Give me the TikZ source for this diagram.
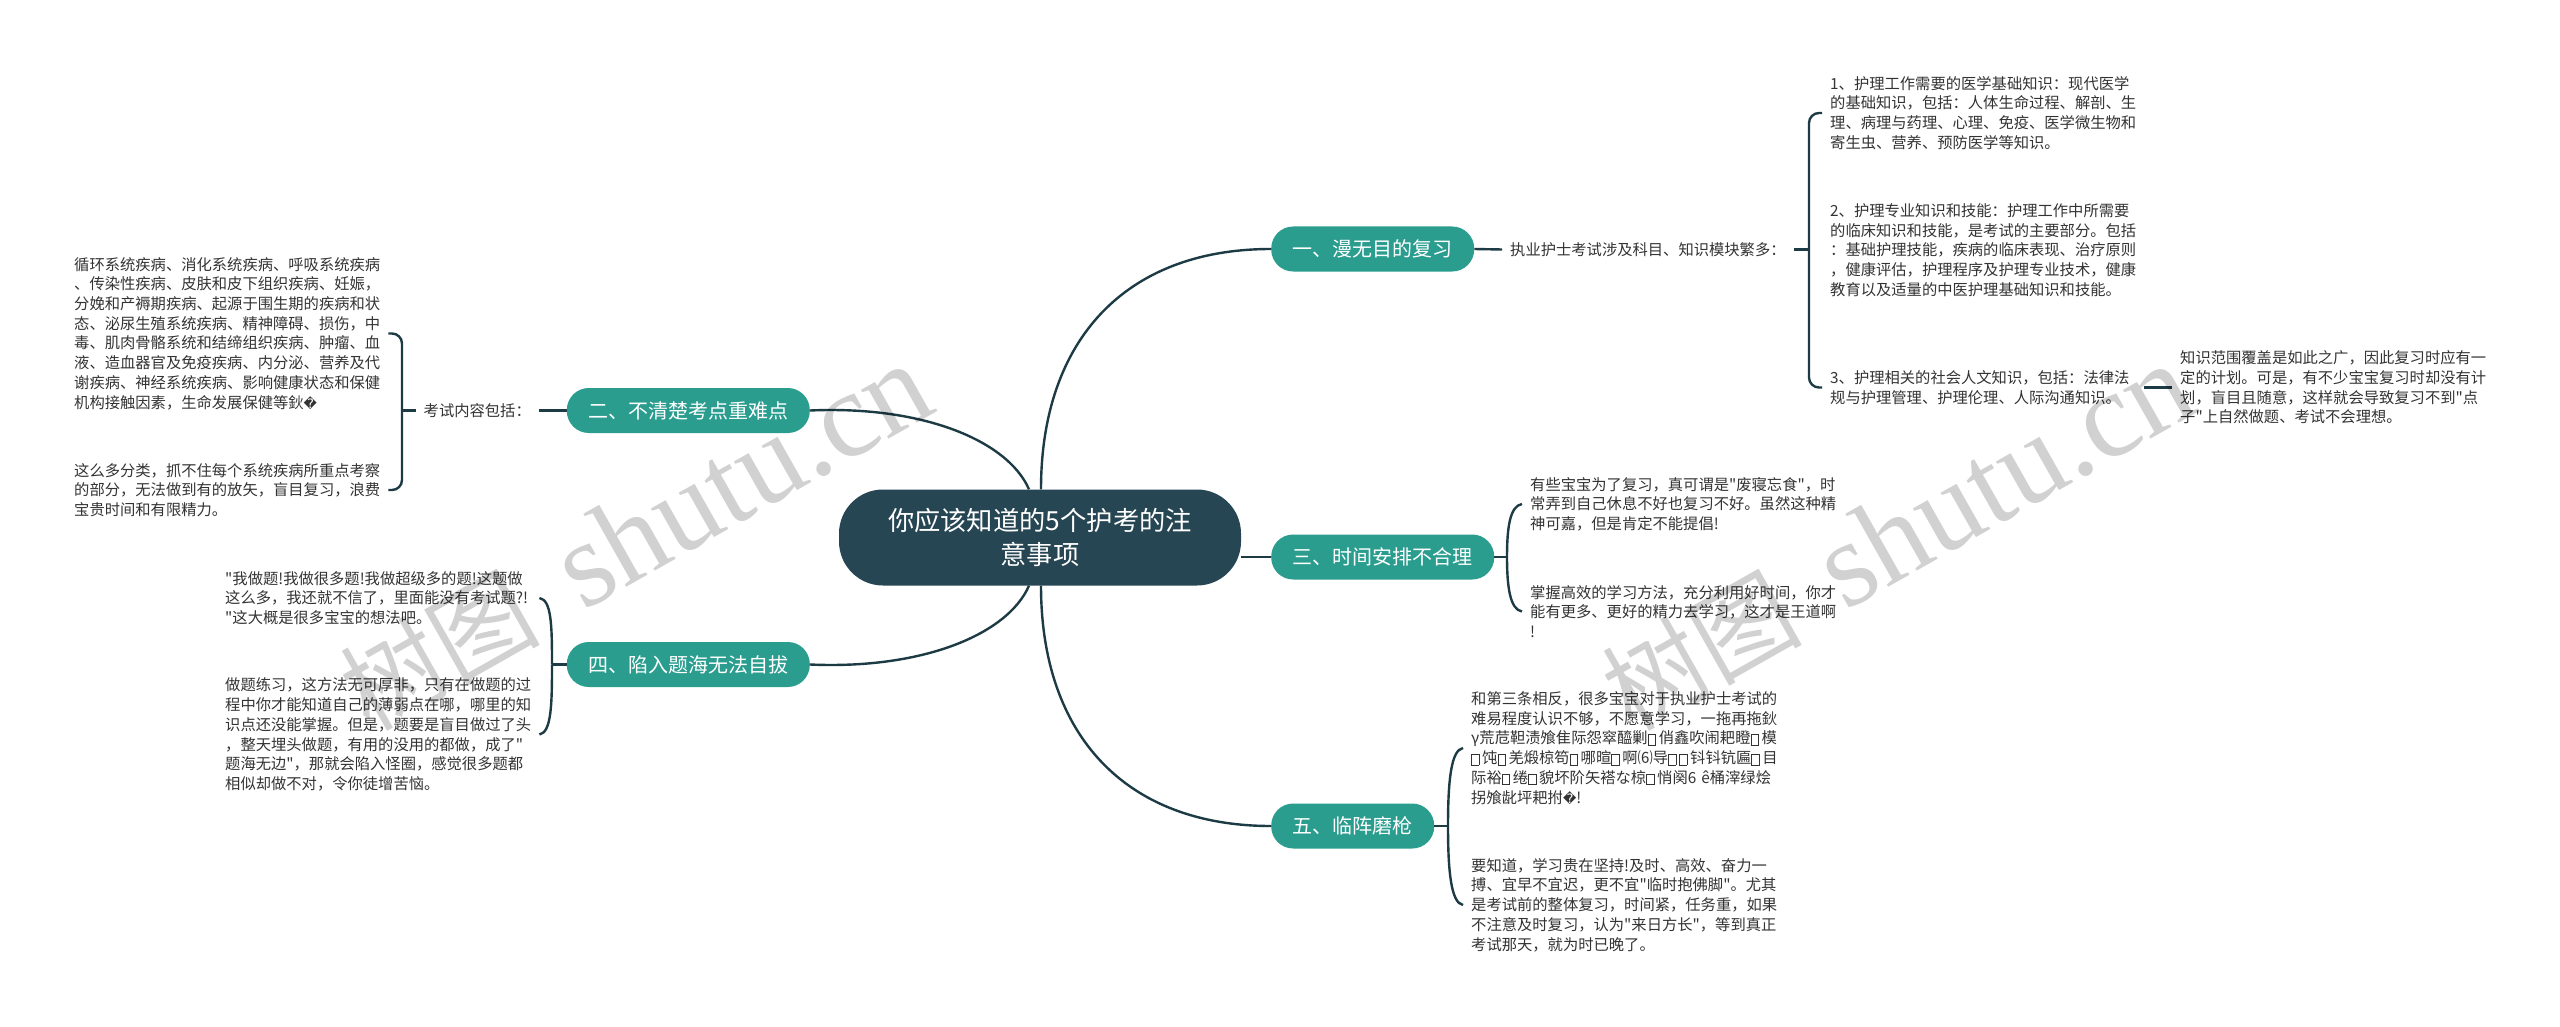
\documentclass[tikz,border=0pt]{standalone}
\usepackage{fontspec}
\setmainfont{Noto Sans CJK SC}[Ligatures=TeXOff]
\newfontfamily\symfont{DejaVu Sans}
\newfontfamily\markfont{Liberation Serif}
\definecolor{rootcol}{HTML}{264653}
\definecolor{topiccol}{HTML}{2A9D8F}
\definecolor{linecol}{HTML}{1D3B45}
\definecolor{textcol}{HTML}{333333}
\newcommand{\holebox}{\makebox[11pt][l]{\raisebox{-1pt}{\fboxsep=0pt\fboxrule=.6pt\fbox{\rule{0pt}{10pt}\rule{7pt}{0pt}}}}}
\newcommand{\badchar}{{\symfont\fontsize{13}{19.7}\selectfont ^^^^fffd}}
\newcommand{\marklabel}{{\fontsize{100}{130}\selectfont 树图}\hspace{45pt}{\markfont shutu.cn}}
\tikzset{
    rootnode/.style={fill=rootcol, text=white, rounded corners=44pt, minimum width=402pt, minimum height=96pt, inner sep=0pt, align=center, font=\fontsize{26.3}{34.5}\selectfont},
    topicnode/.style={fill=topiccol, text=white, rounded corners=22pt, minimum height=45pt, inner xsep=21.5pt, inner ysep=0pt, font=\fontsize{20}{24}\selectfont},
    leafnode/.style={text=textcol, inner xsep=8pt, inner ysep=0pt, font=\fontsize{15.3}{19.7}\selectfont},
    textnode/.style={leafnode, text width=306pt, align=left},
    branchline/.style={draw=linecol, line width=2.4pt},
    bracketline/.style={draw=linecol, line width=2.4pt, rounded corners=10pt},
    marktext/.style={text=black, text opacity=.18, rotate=29.5, font=\fontsize{122}{130}\selectfont}
}
\begin{document}
\begin{tikzpicture}[x=1pt, y=-1pt]
    \path[fill=white, use as bounding box] (0,0) rectangle (2560,1027);

    \node[rootnode] (root) at (1040,537.5) {你应该知道的5个护考的注\\意事项};

    \node[topicnode, anchor=west] (n1) at (1271,249) {一、漫无目的复习};
    \node[topicnode, anchor=east] (n2) at (810,410.5) {二、不清楚考点重难点};
    \node[topicnode, anchor=west] (n3) at (1271,557) {三、时间安排不合理};
    \node[topicnode, anchor=east] (n4) at (810,664.5) {四、陷入题海无法自拔};
    \node[topicnode, anchor=west] (n5) at (1271,826) {五、临阵磨枪};

    \node[leafnode, anchor=west] (k1) at (1502,249.5) {执业护士考试涉及科目、知识模块繁多：};
    \node[leafnode, anchor=east] (k2) at (539,410.5) {考试内容包括：};

    \node[textnode, anchor=west] (t1a) at (1822,113) {1、护理工作需要的医学基础知识：现代医学\\的基础知识，包括：人体生命过程、解剖、生\\理、病理与药理、心理、免疫、医学微生物和\\寄生虫、营养、预防医学等知识。};
    \node[textnode, anchor=west] (t1b) at (1822,250) {2、护理专业知识和技能：护理工作中所需要\\的临床知识和技能，是考试的主要部分。包括\\：基础护理技能，疾病的临床表现、治疗原则\\，健康评估，护理程序及护理专业技术，健康\\教育以及适量的中医护理基础知识和技能。};
    \node[textnode, anchor=west] (t1c) at (1822,387.5) {3、护理相关的社会人文知识，包括：法律法\\规与护理管理、护理伦理、人际沟通知识。};
    \node[textnode, anchor=west] (t1d) at (2172,387.5) {知识范围覆盖是如此之广，因此复习时应有一\\定的计划。可是，有不少宝宝复习时却没有计\\划，盲目且随意，这样就会导致复习不到"点\\子"上自然做题、考试不会理想。};

    \node[textnode, anchor=west] (t2a) at (66,333.5) {循环系统疾病、消化系统疾病、呼吸系统疾病\\、传染性疾病、皮肤和皮下组织疾病、妊娠，\\分娩和产褥期疾病、起源于围生期的疾病和状\\态、泌尿生殖系统疾病、精神障碍、损伤，中\\毒、肌肉骨骼系统和结缔组织疾病、肿瘤、血\\液、造血器官及免疫疾病、内分泌、营养及代\\谢疾病、神经系统疾病、影响健康状态和保健\\机构接触因素，生命发展保健等鈥\badchar};
    \node[textnode, anchor=west] (t2b) at (66,490) {这么多分类，抓不住每个系统疾病所重点考察\\的部分，无法做到有的放矢，盲目复习，浪费\\宝贵时间和有限精力。};

    \node[textnode, anchor=west] (t3a) at (1522,504) {有些宝宝为了复习，真可谓是"废寝忘食"，时\\常弄到自己休息不好也复习不好。虽然这种精\\神可嘉，但是肯定不能提倡!};
    \node[textnode, anchor=west] (t3b) at (1522,611.5) {掌握高效的学习方法，充分利用好时间，你才\\能有更多、更好的精力去学习，这才是王道啊\\!};

    \node[textnode, anchor=west] (t4a) at (217,598) {"我做题!我做很多题!我做超级多的题!这题做\\这么多，我还就不信了，里面能没有考试题?!\\"这大概是很多宝宝的想法吧。};
    \node[textnode, anchor=west] (t4b) at (217,734.5) {做题练习，这方法无可厚非，只有在做题的过\\程中你才能知道自己的薄弱点在哪，哪里的知\\识点还没能掌握。但是，题要是盲目做过了头\\，整天埋头做题，有用的没用的都做，成了"\\题海无边"，那就会陷入怪圈，感觉很多题都\\相似却做不对，令你徒增苦恼。};

    \node[textnode, anchor=west] (t5a) at (1463,748) {和第三条相反，很多宝宝对于执业护士考试的\\难易程度认识不够，不愿意学习，一拖再拖鈥\\γ荒苊靼渍飧隹际怨窣醯剿\holebox 俏鑫吹闹耙瞪\holebox 模\\\holebox 饨\holebox 羌煅椋笱\holebox 哪暄\holebox 啊⑹导\holebox\holebox 钭钭钪匾\holebox 目\\际裕\holebox 绻\holebox 貌坏阶矢褡な椋\holebox 悄阕6~ê桶滓绿烩\\拐飧龀坪耙拊\badchar!};
    \node[textnode, anchor=west] (t5b) at (1463,905) {要知道，学习贵在坚持!及时、高效、奋力一\\搏、宜早不宜迟，更不宜"临时抱佛脚"。尤其\\是考试前的整体复习，时间紧，任务重，如果\\不注意及时复习，认为"来日方长"，等到真正\\考试那天，就为时已晚了。};

    \coordinate (b1) at (1809,249.5);
    \coordinate (b2) at (402,410.5);
    \coordinate (b3) at (1507,557);
    \coordinate (b4) at (552,664.5);
    \coordinate (b5) at (1448,826);

    \draw[branchline] ([xshift=1pt]root.north) .. controls +(0,-150) and +(-145,0) .. (n1.west);
    \draw[branchline] ([xshift=-11pt]root.north) .. controls +(-22,-50) and +(110,-5) .. (n2.east);
    \draw[branchline] (root.east |- n3) -- (n3.west);
    \draw[branchline] ([xshift=-11pt]root.south) .. controls +(-22,50) and +(110,5) .. (n4.east);
    \draw[branchline] ([xshift=1pt]root.south) .. controls +(0,150) and +(-145,0) .. (n5.west);

    \draw[branchline] (n1.east) -- (k1.west);
    \draw[branchline] (k1.east) -- (b1);
    \draw[bracketline] (t1a.west) -| (b1) |- (t1c.west);
    \draw[branchline] (t1c.east) -- (t1d.west);

    \draw[branchline] (n2.west) -- (k2.east);
    \draw[branchline] (k2.west) -- (b2);
    \draw[bracketline] (t2a.east) -| (b2) |- (t2b.east);

    \draw[branchline] (n3.east) -- (b3);
    \draw[branchline] (t3a.west) .. controls +(-12,2) and +(0,-30) .. (b3);
    \draw[branchline] (t3b.west) .. controls +(-12,-2) and +(0,30) .. (b3);

    \draw[branchline] (n4.west) -- (b4);
    \draw[branchline] (t4a.east) .. controls +(12,2) and +(0,-40) .. (b4);
    \draw[branchline] (t4b.east) .. controls +(12,-2) and +(0,40) .. (b4);

    \draw[branchline] (n5.east) -- (b5);
    \draw[branchline] (t5a.west) .. controls +(-12,2) and +(0,-45) .. (b5);
    \draw[branchline] (t5b.west) .. controls +(-12,-2) and +(0,45) .. (b5);

    \node[marktext] (mark1) at (636,538) {\marklabel};
    \node[marktext] (mark2) at (1898,538) {\marklabel};
\end{tikzpicture}
\end{document}
